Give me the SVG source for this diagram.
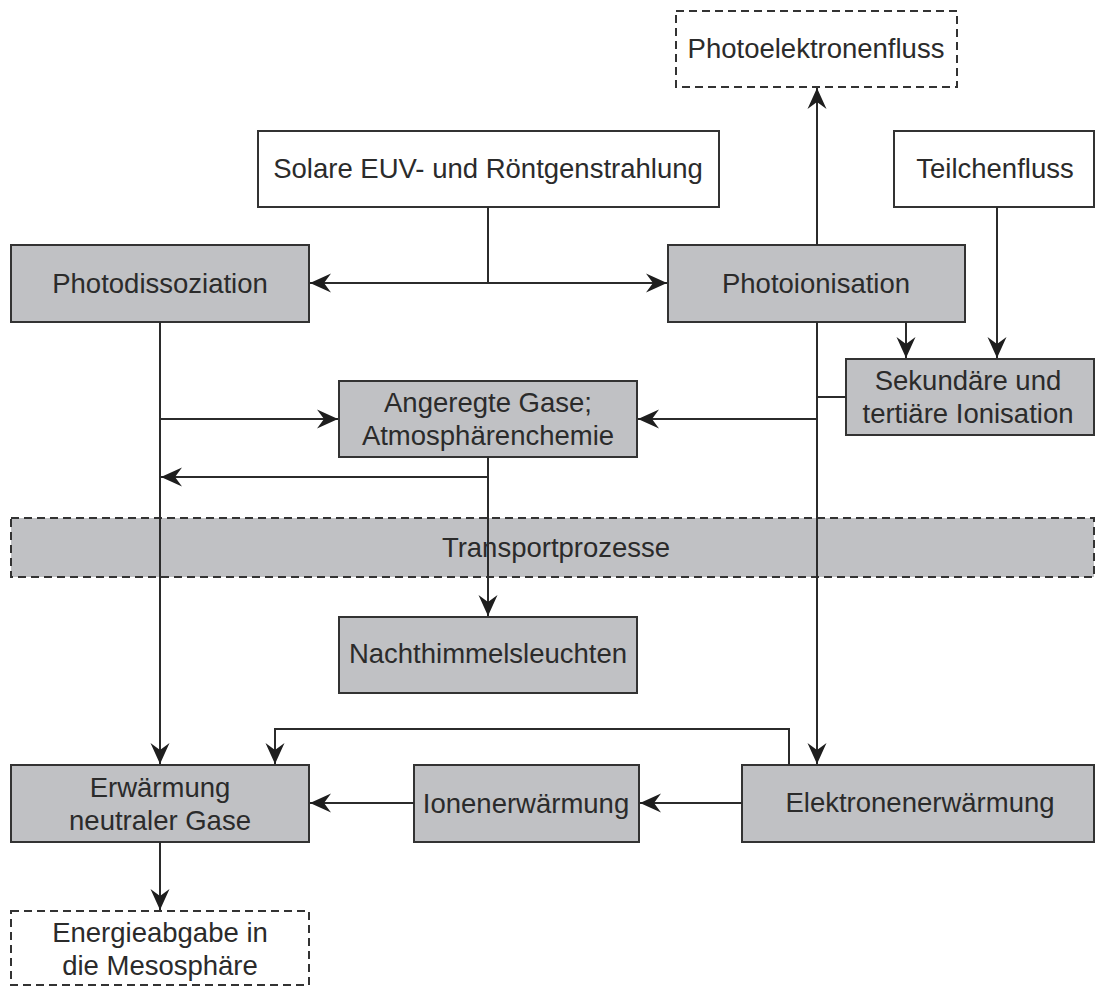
<svg xmlns="http://www.w3.org/2000/svg" width="1096" height="987" viewBox="0 0 1096 987">
<style>
  .box { fill: #c0c1c4; stroke: #333; stroke-width: 2; }
  .wbox { fill: #fff; stroke: #333; stroke-width: 2; }
  .dash { stroke-dasharray: 8 5; }
  .t { font-family: "Liberation Sans", Arial, sans-serif; font-size: 27.5px; fill: #2b2b2b; text-anchor: middle; }
  .c { fill: none; stroke: #2b2b2b; stroke-width: 2; }
</style>
<defs>
  <marker id="ah" markerUnits="userSpaceOnUse" markerWidth="24" markerHeight="22" viewBox="-22 -11 24 22" refX="0" refY="0" orient="auto">
    <path d="M0,0 L-21,-9.5 L-14,0 L-21,9.5 Z" fill="#1e1e1e"/>
  </marker>
</defs>
<rect width="1096" height="987" fill="#fff"/>

<g id="photoelektronenfluss"><rect class="wbox dash" x="676" y="11" width="281" height="76"/><text class="t" x="816" y="58">Photoelektronenfluss</text></g>
<g id="solare"><rect class="wbox" x="258" y="131" width="461" height="76"/><text class="t" x="488" y="178">Solare EUV- und Röntgenstrahlung</text></g>
<g id="teilchenfluss"><rect class="wbox" x="894" y="131" width="200" height="76"/><text class="t" x="995" y="178">Teilchenfluss</text></g>
<g id="photodissoziation"><rect class="box" x="11" y="245" width="298" height="77"/><text class="t" x="160" y="293">Photodissoziation</text></g>
<g id="photoionisation"><rect class="box" x="668" y="245" width="297" height="77"/><text class="t" x="816" y="293">Photoionisation</text></g>
<g id="sekundaere"><rect class="box" x="846" y="359" width="248" height="76"/><text class="t" x="968" y="390">Sekundäre und</text><text class="t" x="968" y="423">tertiäre Ionisation</text></g>
<g id="angeregte"><rect class="box" x="339" y="381" width="298" height="76"/><text class="t" x="488" y="412">Angeregte Gase;</text><text class="t" x="488" y="445">Atmosphärenchemie</text></g>
<g id="transport"><rect class="box dash" x="11" y="518" width="1083" height="59"/><text class="t" x="556" y="557">Transportprozesse</text></g>
<g id="nachthimmel"><rect class="box" x="339" y="617" width="298" height="76"/><text class="t" x="488" y="663">Nachthimmelsleuchten</text></g>
<g id="erwaermung"><rect class="box" x="11" y="765" width="298" height="77"/><text class="t" x="160" y="797">Erwärmung</text><text class="t" x="160" y="830">neutraler Gase</text></g>
<g id="ionen"><rect class="box" x="414" y="765" width="225" height="77"/><text class="t" x="526" y="813">Ionenerwärmung</text></g>
<g id="elektronen"><rect class="box" x="742" y="765" width="352" height="77"/><text class="t" x="920" y="812">Elektronenerwärmung</text></g>
<g id="energieabgabe"><rect class="wbox dash" x="11" y="911" width="298" height="74"/><text class="t" x="160" y="942">Energieabgabe in</text><text class="t" x="160" y="975">die Mesosphäre</text></g>

<g id="connectors">
  <path class="c" d="M488,207 V283"/>
  <path class="c" d="M488,283 H310" marker-end="url(#ah)"/>
  <path class="c" d="M488,283 H667" marker-end="url(#ah)"/>
  <path class="c" d="M817,245 V88" marker-end="url(#ah)"/>
  <path class="c" d="M997,207 V358" marker-end="url(#ah)"/>
  <path class="c" d="M906,322 V358" marker-end="url(#ah)"/>
  <path class="c" d="M817,322 V764" marker-end="url(#ah)"/>
  <path class="c" d="M846,397 H817"/>
  <path class="c" d="M817,419 H638" marker-end="url(#ah)"/>
  <path class="c" d="M160,322 V764" marker-end="url(#ah)"/>
  <path class="c" d="M160,419 H338" marker-end="url(#ah)"/>
  <path class="c" d="M488,457 V616" marker-end="url(#ah)"/>
  <path class="c" d="M488,477 H161" marker-end="url(#ah)"/>
  <path class="c" d="M789,765 V729 H275 V764" marker-end="url(#ah)"/>
  <path class="c" d="M742,803 H640" marker-end="url(#ah)"/>
  <path class="c" d="M414,803 H310" marker-end="url(#ah)"/>
  <path class="c" d="M160,842 V910" marker-end="url(#ah)"/>
</g>
</svg>
